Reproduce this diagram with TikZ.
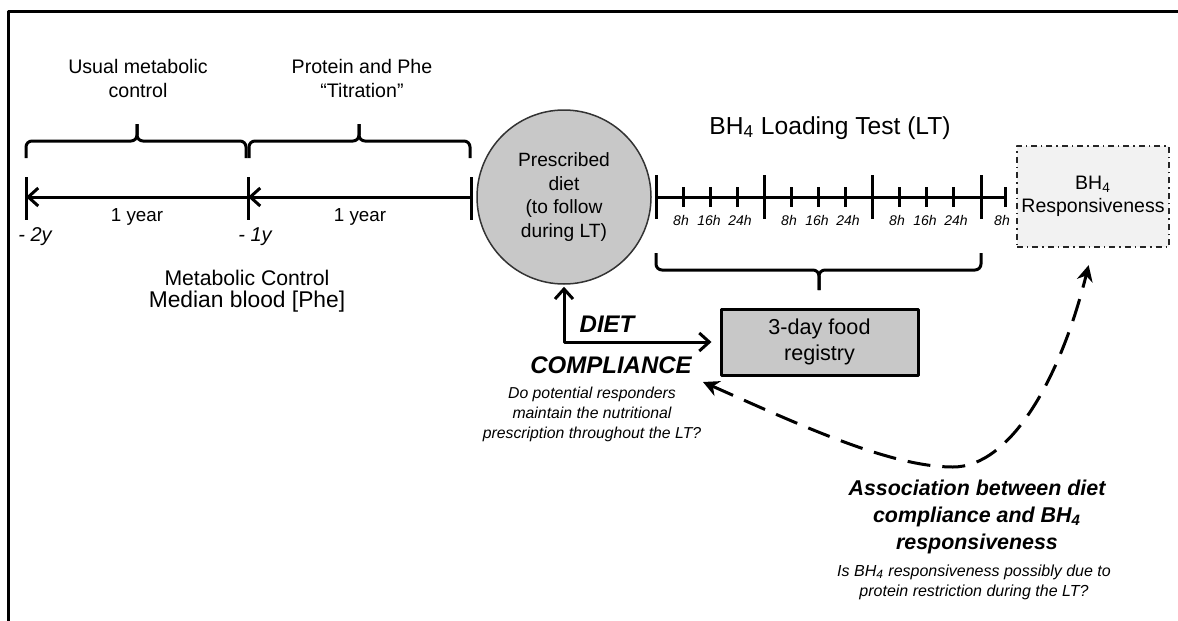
\documentclass[tikz,border=0pt]{standalone}
\usepackage{fontspec}
\setmainfont{Liberation Sans}
\usepackage{tikz}
\usetikzlibrary{arrows.meta, shapes, positioning}
\usepackage{xcolor}
\definecolor{dietgray}{RGB}{200,200,200}
\definecolor{respgray}{RGB}{242,242,242}
\tikzset{thickline/.style={line width=1.5pt},yeararrow/.style={line width=1.5pt, -{Straight Barb[length=5pt, width=9pt]}}}
\tikzset{bracestyle/.style={line width=1.5pt, rounded corners=3pt}}
\tikzset{dietcircle/.style={circle, fill=dietgray, draw=black!80, line width=0.75pt, minimum size=87pt, inner sep=0pt, align=center, font=\fontsize{9.6}{11.8}\selectfont},regbox/.style={rectangle, fill=dietgray, draw=black, line width=1.5pt, minimum width=98.5pt, minimum height=33pt, inner sep=0pt, align=center, font=\fontsize{10.8}{13}\selectfont},respbox/.style={rectangle, fill=respgray, draw=black!85, line width=0.7pt, dash dot, minimum width=76pt, minimum height=50.5pt, inner sep=0pt, align=center, font=\fontsize{9.75}{11.5}\selectfont}}

\begin{document}
\begin{tikzpicture}[
        x=0.5pt, y=-0.5pt,
        line join=round,
        toplbl/.style={align=center, font=\fontsize{9.8}{12}\selectfont},
        yearlbl/.style={font=\fontsize{9.4}{11}\selectfont},
        itlbl/.style={font=\fontsize{10}{12}\selectfont\itshape},
        hourlbl/.style={font=\fontsize{7}{8}\selectfont\itshape},
        boldlbl/.style={align=center, font=\fontsize{12}{14}\selectfont\bfseries\itshape},
        asklbl/.style={align=center, font=\fontsize{7.9}{10}\selectfont\itshape},
        dietarrow/.style={line width=1.5pt, {Straight Barb[length=5pt, width=9pt]}-{Straight Barb[length=5pt, width=9pt]}},
        assocarrow/.style={line width=1.5pt, dash pattern=on 11.5pt off 6pt, {Stealth[length=8pt, width=8pt]}-{Stealth[length=8pt, width=8pt]}},
    ]
        \useasboundingbox (0,0) rectangle (1178,621);
        % Frame
        \draw[thickline] (8,621) -- (8,11) -- (1178,11);
        % Years before the test
        \node[toplbl] (usual) at (138,78.5) {Usual metabolic\\control};
        \node[toplbl] (titration) at (362,78.5) {Protein and Phe\\“Titration”};
        % Braces
        \foreach \xa/\xt/\xb/\ya/\yb/\yt in {
            26/137/246/158/141/124,
            249/359/470/158/141/124,
            656/819/981/253/270/290} {
            \draw[bracestyle] (\xa,\ya) |- (\xt,\yb) -- (\xt,\yt);
            \draw[bracestyle] (\xt,\yt) -- (\xt,\yb) -| (\xb,\ya);
        }
        \coordinate (m2) at (26,197);
        \coordinate (m1) at (248,197);
        \coordinate (m0) at (471,197);
        \draw[yeararrow] (m0) -- (m1);
        \draw[yeararrow] (m1) -- (m2);
        \foreach \p in {m2, m1, m0} {
            \draw[thickline] (\p) ++(0,-20) -- ++(0,43);
        }
        \node[yearlbl] (year1) at (137,217) {1 year};
        \node[yearlbl] (year0) at (360,217) {1 year};
        \node[itlbl] (ago2) at (35,237) {- 2y};
        \node[itlbl] (ago1) at (255,237) {- 1y};
        \node[font=\fontsize{10.6}{12}\selectfont] (metab) at (247,278) {Metabolic Control};
        \node[font=\fontsize{11.4}{13}\selectfont] (median) at (247,302) {Median blood [Phe]};
        % Prescribed diet
        \node[dietcircle] (diet) at (564,197) {Prescribed\\diet\\(to follow\\during LT)};
        % Loading test
        \node[font=\fontsize{12.3}{14}\selectfont] (lt) at (830,128) {BH\textsubscript{4} Loading Test (LT)};
        \draw[thickline] (656,197) -- (1005,197);
        \foreach \x in {656, 764, 872, 981} {
            \draw[thickline] (\x,175) -- (\x,219);
        }
        \foreach \g in {656, 764, 872} {
            \foreach \dx in {27, 54, 81} {
                \draw[thickline] (\g+\dx,187) -- (\g+\dx,207);
            }
            \node[hourlbl] at (\g+25,220) {8h};
            \node[hourlbl] at (\g+53,220) {16h};
            \node[hourlbl] at (\g+84,220) {24h};
        }
        \draw[thickline] (1005,187) -- (1005,207);
        \node[hourlbl] at (1002,220) {8h};
        % Boxes
        \node[regbox] (registry) at (819.5,342) {3-day food\\registry};
        \node[respbox] (resp) at (1093,196.5) {BH\textsubscript{4}\\Responsiveness};
        % Diet compliance
        \draw[dietarrow, shorten >=4pt, shorten <=1pt] (diet.south) |- (registry.west);
        \node[boldlbl] (dietlbl) at (607,324) {DIET};
        \node[boldlbl] (compliance) at (611,365) {COMPLIANCE};
        \node[asklbl] (askdiet) at (592,414) {Do potential responders\\maintain the nutritional\\prescription throughout the LT?};
        % Association
        \coordinate (assocL) at (703,382);
        \coordinate (assocB) at (953,467);
        \draw[assocarrow, shorten >=9pt] (assocL) .. controls (800,425) and (890,467) .. (assocB) .. controls (1010,467) and (1060,380) .. (resp.south);
        \node[boldlbl, font=\fontsize{10.7}{13.3}\selectfont\bfseries\itshape] (assoc) at (977,517) {Association between diet\\compliance and BH\textsubscript{4}\\responsiveness};
        \node[asklbl, font=\fontsize{8}{10}\selectfont\itshape] (askassoc) at (974,582) {Is BH\textsubscript{4} responsiveness possibly due to\\protein restriction during the LT?};
    \end{tikzpicture}
\end{document}
